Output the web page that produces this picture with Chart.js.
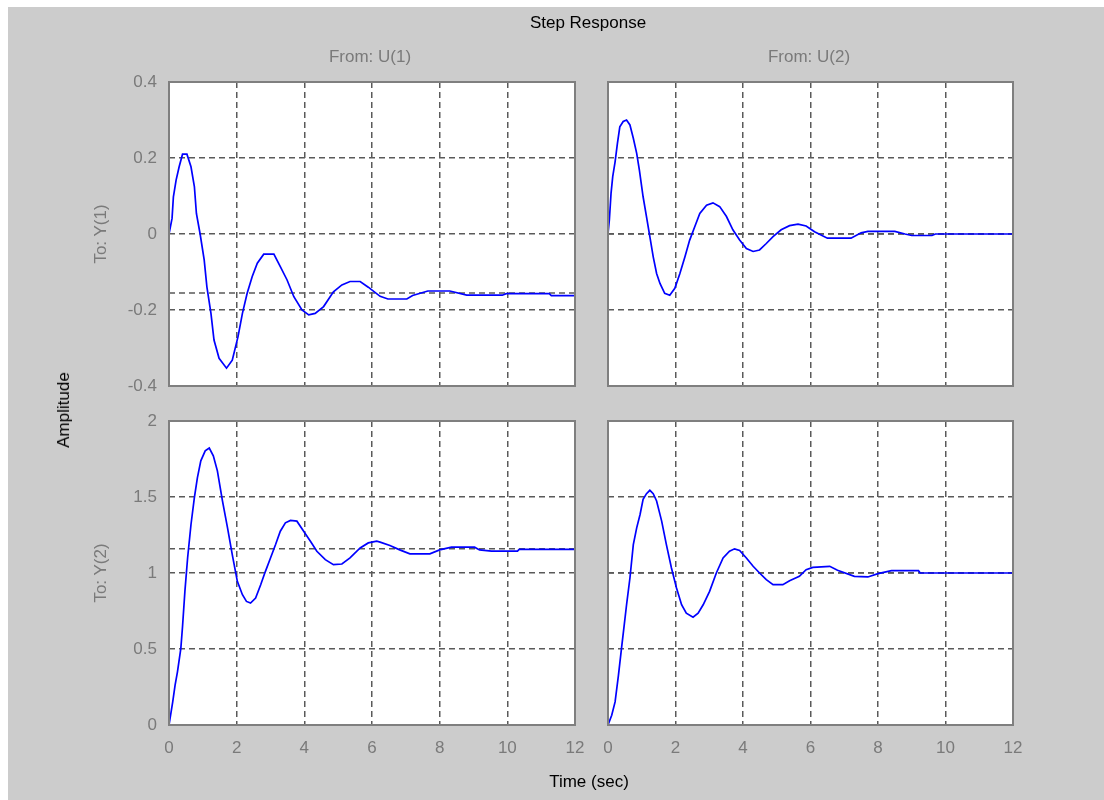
<!DOCTYPE html>
<html>
<head>
<meta charset="utf-8">
<script src="https://cdn.jsdelivr.net/npm/chart.js@4/dist/chart.umd.min.js"></script>
<style>
  html, body { margin: 0; padding: 0; background: #ffffff; }
  body { width: 1104px; height: 800px; position: relative; overflow: hidden;
         font-family: "Liberation Sans", Arial, sans-serif; }
  #figure { position: absolute; left: 8px; top: 7px; right: 0; bottom: 0; background: #cccccc; }
  canvas.plot { position: absolute; left: 0; top: 0; }
  .lbl { position: absolute; white-space: nowrap; font-size: 17px; line-height: 20px; }
  .gray { color: #7a7a7a; }
  .rot { transform: translate(-50%, -50%) rotate(-90deg); }
  .ctr { transform: translate(-50%, -50%); }
</style>
</head>
<body>
<div id="figure"></div>
<canvas class="plot" id="c11" width="1104" height="800"></canvas>
<canvas class="plot" id="c12" width="1104" height="800"></canvas>
<canvas class="plot" id="c21" width="1104" height="800"></canvas>
<canvas class="plot" id="c22" width="1104" height="800"></canvas>

<div class="lbl ctr" style="left:588px; top:23px;">Step Response</div>
<div class="lbl ctr gray" style="left:370px; top:57px;">From: U(1)</div>
<div class="lbl ctr gray" style="left:809px; top:57px;">From: U(2)</div>
<div class="lbl rot gray" style="left:101px; top:234px;">To: Y(1)</div>
<div class="lbl rot gray" style="left:101px; top:573px;">To: Y(2)</div>
<div class="lbl rot" style="left:64px; top:410px;">Amplitude</div>
<div class="lbl ctr" style="left:589px; top:782px;">Time (sec)</div>

<script>
// time axis ticks (sec)
const timeTicks = [0, 2, 4, 6, 8, 10, 12];

// To: Y(1), From: U(1)
const t11 = [0, 0.09, 0.13, 0.21, 0.30, 0.40, 0.53, 0.65, 0.75, 0.81, 0.92, 1.04, 1.12, 1.24, 1.33, 1.48, 1.70, 1.87, 2.04, 2.17, 2.31, 2.46, 2.61, 2.80, 3.10, 3.29, 3.49, 3.69, 3.93, 4.13, 4.32, 4.57, 4.86, 5.11, 5.35, 5.65, 5.89, 6.24, 6.47, 7.03, 7.20, 7.65, 8.30, 8.80, 9.85, 9.97, 11.24, 11.30, 12];
const y11 = [0, 0.041, 0.098, 0.142, 0.177, 0.21, 0.21, 0.177, 0.125, 0.054, 0, -0.068, -0.139, -0.209, -0.279, -0.327, -0.353, -0.332, -0.27, -0.209, -0.156, -0.112, -0.077, -0.053, -0.053, -0.086, -0.121, -0.165, -0.2, -0.213, -0.209, -0.191, -0.152, -0.134, -0.125, -0.125, -0.14, -0.164, -0.171, -0.171, -0.162, -0.15, -0.15, -0.161, -0.161, -0.157, -0.157, -0.162, -0.162];

// To: Y(1), From: U(2)
const t12 = [0, 0.04, 0.09, 0.14, 0.21, 0.28, 0.35, 0.45, 0.55, 0.65, 0.75, 0.85, 0.93, 1.04, 1.14, 1.24, 1.34, 1.44, 1.54, 1.68, 1.83, 1.98, 2.13, 2.28, 2.42, 2.57, 2.72, 2.92, 3.11, 3.31, 3.51, 3.70, 3.90, 4.10, 4.30, 4.49, 4.69, 4.89, 5.13, 5.38, 5.63, 5.87, 6.12, 6.50, 7.20, 7.50, 7.70, 8.50, 8.80, 9.00, 9.60, 9.70, 12];
const y12 = [0, 0.037, 0.107, 0.151, 0.19, 0.239, 0.282, 0.296, 0.3, 0.287, 0.252, 0.212, 0.168, 0.098, 0.046, -0.007, -0.06, -0.104, -0.13, -0.156, -0.161, -0.143, -0.104, -0.06, -0.016, 0.019, 0.054, 0.076, 0.082, 0.072, 0.046, 0.011, -0.016, -0.038, -0.046, -0.042, -0.025, -0.007, 0.011, 0.022, 0.026, 0.021, 0.006, -0.011, -0.011, 0.003, 0.007, 0.007, 0, -0.004, -0.004, 0, 0];

// To: Y(2), From: U(1)
const t21 = [0, 0.11, 0.18, 0.25, 0.35, 0.40, 0.47, 0.55, 0.65, 0.75, 0.84, 0.94, 1.07, 1.19, 1.31, 1.43, 1.58, 1.73, 1.87, 2.02, 2.17, 2.29, 2.41, 2.56, 2.71, 2.85, 3.00, 3.15, 3.29, 3.44, 3.59, 3.78, 3.98, 4.18, 4.37, 4.62, 4.86, 5.11, 5.35, 5.65, 5.89, 6.14, 6.24, 6.53, 6.82, 7.12, 7.71, 8.00, 8.35, 9.03, 9.18, 9.53, 10.30, 10.35, 12];
const y21 = [0, 0.152, 0.262, 0.35, 0.504, 0.648, 0.879, 1.099, 1.319, 1.496, 1.628, 1.738, 1.804, 1.822, 1.771, 1.672, 1.474, 1.297, 1.121, 0.945, 0.857, 0.813, 0.802, 0.835, 0.923, 1.011, 1.099, 1.187, 1.275, 1.33, 1.346, 1.341, 1.275, 1.209, 1.143, 1.088, 1.055, 1.059, 1.099, 1.165, 1.198, 1.209, 1.203, 1.181, 1.152, 1.126, 1.126, 1.152, 1.17, 1.17, 1.152, 1.144, 1.144, 1.155, 1.155];

// To: Y(2), From: U(2)
const t22 = [0, 0.11, 0.21, 0.31, 0.40, 0.47, 0.55, 0.65, 0.75, 0.85, 0.95, 1.04, 1.14, 1.24, 1.34, 1.44, 1.59, 1.73, 1.88, 2.03, 2.18, 2.32, 2.52, 2.67, 2.82, 3.01, 3.21, 3.41, 3.60, 3.75, 3.90, 4.10, 4.30, 4.49, 4.69, 4.89, 5.18, 5.38, 5.67, 5.87, 6.07, 6.57, 6.80, 7.30, 7.70, 8.00, 8.40, 9.20, 9.25, 12];
const y22 = [0, 0.064, 0.152, 0.328, 0.504, 0.637, 0.791, 0.967, 1.187, 1.297, 1.385, 1.485, 1.522, 1.544, 1.522, 1.474, 1.341, 1.187, 1.033, 0.901, 0.791, 0.736, 0.709, 0.736, 0.791, 0.879, 1.0, 1.099, 1.143, 1.159, 1.148, 1.099, 1.044, 1.0, 0.956, 0.923, 0.923, 0.949, 0.978, 1.022, 1.037, 1.044, 1.018, 0.978, 0.974, 0.996, 1.015, 1.015, 1.0, 1.0];

// steady-state values for each channel (Y1U1, Y1U2, Y2U1, Y2U2)
const steady = [-0.155, 0, 1.159, 1];

// amplitude ticks per row
const ticksY1 = [-0.4, -0.2, 0, 0.2, 0.4];
const ticksY2 = [0, 0.5, 1, 1.5, 2];

const FONT = '"Liberation Sans", Arial, sans-serif';
const GRID = '#5a5a5a';
const DASH = [6, 4];
const Y_W = 60, X_H = 40;

Chart.defaults.font.family = FONT;
Chart.defaults.font.size = 17;
Chart.defaults.color = '#7a7a7a';

// white axes background + grey box round it
const axesBox = {
    id: 'axesBox',
    beforeDraw(chart) {
        const a = chart.chartArea, ctx = chart.ctx;
        ctx.save();
        ctx.fillStyle = '#ffffff';
        ctx.fillRect(a.left, a.top, a.right - a.left, a.bottom - a.top);
        ctx.restore();
    },
    afterDraw(chart) {
        const a = chart.chartArea, ctx = chart.ctx;
        ctx.save();
        ctx.strokeStyle = '#7f7f7f';
        ctx.lineWidth = 2;
        ctx.strokeRect(a.left, a.top, a.right - a.left, a.bottom - a.top);
        ctx.restore();
    }
};

function toPoints(t, y) {
    return t.map((x, i) => ({ x: x, y: y[i] }));
}

function makeChart(id, rect, t, y, ss, yTicks, showX, showY) {
    const ctx = document.getElementById(id).getContext('2d');
    return new Chart(ctx, {
        type: 'line',
        data: {
            datasets: [{
                data: toPoints(t, y),
                borderColor: '#0000ff',
                borderWidth: 1.7,
                pointRadius: 0,
                tension: 0
            }, {
                data: [{ x: timeTicks[0], y: ss }, { x: timeTicks[timeTicks.length - 1], y: ss }],
                borderColor: GRID,
                borderWidth: 1.5,
                borderDash: DASH,
                pointRadius: 0
            }]
        },
        options: {
            responsive: false,
            animation: false,
            devicePixelRatio: 1,
            events: [],
            layout: {
                padding: {
                    left: rect.left - Y_W,
                    top: rect.top,
                    right: 1104 - rect.right,
                    bottom: 800 - rect.bottom - X_H
                }
            },
            plugins: { legend: { display: false }, tooltip: { enabled: false } },
            scales: {
                x: {
                    type: 'linear',
                    min: timeTicks[0],
                    max: timeTicks[timeTicks.length - 1],
                    afterBuildTicks: function (scale) {
                        scale.ticks = timeTicks.map(v => ({ value: v }));
                    },
                    afterFit: function (scale) { scale.height = X_H; },
                    grid: { color: GRID, lineWidth: 1.5, drawTicks: false },
                    border: { display: false, dash: DASH },
                    ticks: { display: showX, padding: 13, maxRotation: 0, autoSkip: false,
                             callback: v => String(v) }
                },
                y: {
                    type: 'linear',
                    min: yTicks[0],
                    max: yTicks[yTicks.length - 1],
                    afterBuildTicks: function (scale) {
                        scale.ticks = yTicks.map(v => ({ value: v }));
                    },
                    afterFit: function (scale) { scale.width = Y_W; },
                    grid: { color: GRID, lineWidth: 1.5, drawTicks: false },
                    border: { display: false, dash: DASH },
                    ticks: { display: showY, padding: 12, autoSkip: false,
                             callback: v => String(v) }
                }
            }
        },
        plugins: [axesBox]
    });
}

document.addEventListener('DOMContentLoaded', function () {
    makeChart('c11', { left: 169, right: 575, top: 82, bottom: 386 }, t11, y11, steady[0], ticksY1, false, true);
    makeChart('c12', { left: 608, right: 1013, top: 82, bottom: 386 }, t12, y12, steady[1], ticksY1, false, false);
    makeChart('c21', { left: 169, right: 575, top: 421, bottom: 725 }, t21, y21, steady[2], ticksY2, true, true);
    makeChart('c22', { left: 608, right: 1013, top: 421, bottom: 725 }, t22, y22, steady[3], ticksY2, true, false);
});
</script>
</body>
</html>
